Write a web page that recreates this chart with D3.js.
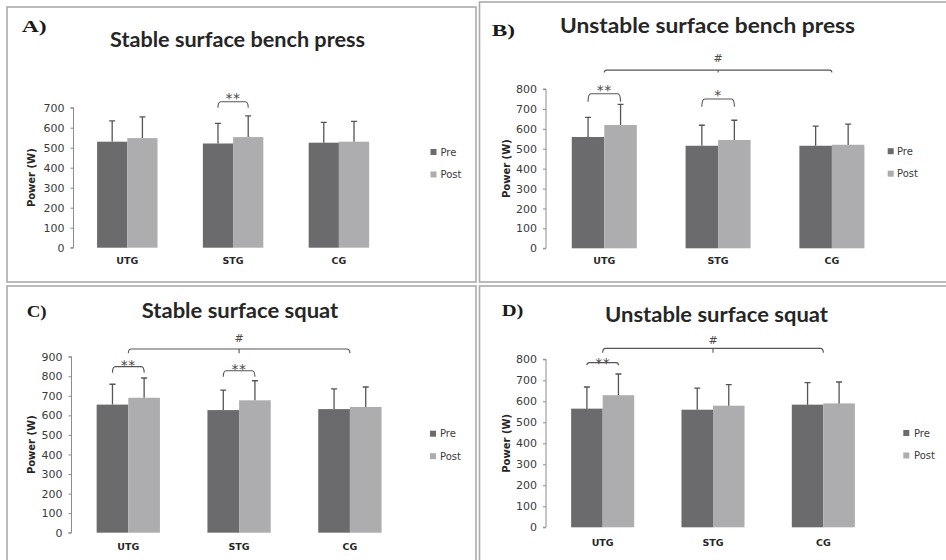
<!DOCTYPE html>
<html><head><meta charset="utf-8">
<script src="https://cdn.jsdelivr.net/npm/d3@7"></script>
<style>html,body{margin:0;padding:0;background:#fff;}svg{display:block;}</style>
</head><body>
<svg id="chart" width="946" height="560"></svg>
<script>
// ---------- DATA ----------
const groups = ["UTG", "STG", "CG"];
const seriesNames = ["Pre", "Post"];
const panelLetters = ["A)", "B)", "C)", "D)"];
const panelTitles = ["Stable surface bench press", "Unstable surface bench press", "Stable surface squat", "Unstable surface squat"];
const yMaxes = [700, 800, 900, 800];
const yTickStep = 100;
const yTitle = "Power (W)";

const preA = [530, 521, 525], postA = [548, 553, 530];
const preSdA = [104, 101, 102], postSdA = [106, 106, 102];
const preB = [559, 515, 515], postB = [619, 544, 520];
const preSdB = [99, 103, 99], postSdB = [104, 99, 104];
const preC = [655, 627, 632], postC = [690, 677, 643];
const preSdC = [104, 102, 103], postSdC = [101, 100, 102];
const preD = [565, 560, 584], postD = [629, 579, 590];
const preSdD = [103, 103, 105], postSdD = [101, 100, 102];

// significance marks: pair = pre vs post within group; brace = across groups
const sigA = [{type: "pair", group: 1, level: 730, label: "**"}];
const sigB = [{type: "pair", group: 0, level: 776, label: "**"},
              {type: "pair", group: 1, level: 750, label: "*"},
              {type: "brace", from: 0, to: 2, level: 895, label: "#"}];
const sigC = [{type: "pair", group: 0, level: 849, label: "**"},
              {type: "pair", group: 1, level: 828, label: "**"},
              {type: "brace", from: 0, to: 2, level: 939, label: "#"}];
const sigD = [{type: "pair", group: 0, level: 784, label: "**"},
              {type: "brace", from: 0, to: 2, level: 852, label: "#"}];

const preSets = [preA, preB, preC, preD];
const postSets = [postA, postB, postC, postD];
const preSdSets = [preSdA, preSdB, preSdC, preSdD];
const postSdSets = [postSdA, postSdB, postSdC, postSdD];
const sigSets = [sigA, sigB, sigC, sigD];

// ---------- LAYOUT ----------
const layouts = [
  {box: [7, 7, 476, 282], x: [74.4, 391.8], y: [247.7, 107.7], axisX: 73.5,
   letter: [21.7, 31.7, 25], title: [237.5, 46.7, 255], yTitleX: 31, xLabelY: 264,
   legend: [430.5, 152, 440.5], drop: [6], labelOff: [7.5]},
  {box: [479.5, 2, 960, 282], x: [547.4, 888.8], y: [248.3, 89], axisX: 546,
   letter: [491.7, 35.5, 23.3], title: [707.5, 33.3, 295], yTitleX: 506, xLabelY: 264,
   legend: [887.7, 151.2, 897], drop: [8, 7.7, 2.5], labelOff: [7, 7, 11.5]},
  {box: [7, 286, 476, 575], x: [72.9, 405.3], y: [532.7, 356.7], axisX: 71.5,
   letter: [26.7, 317, 20], title: [240, 318.3, 196.6], yTitleX: 31, xLabelY: 550,
   legend: [430, 433.7, 440], drop: [6, 6, 4.3], labelOff: [5, 5.5, 10.5]},
  {box: [479.5, 286, 960, 575], x: [547.5, 878.5], y: [527.3, 359.3], axisX: 546,
   letter: [501.7, 315.5, 21.7], title: [716.5, 321.7, 223], yTitleX: 506, xLabelY: 545.5,
   legend: [903.3, 433, 914], drop: [2.5, 4.4], labelOff: [3, 8.5]}
];

const colors = {Pre: "#6b6b6e", Post: "#adadaf"};
const svg = d3.select("#chart");

layouts.forEach((L, p) => {
  const g = svg.append("g");
  // panel border
  g.append("rect")
    .attr("x", L.box[0]).attr("y", L.box[1])
    .attr("width", L.box[2] - L.box[0]).attr("height", L.box[3] - L.box[1])
    .attr("fill", "none").attr("stroke", "#ababab").attr("stroke-width", 1.6);

  const x0 = d3.scaleBand().domain(groups).range(L.x).paddingInner(0).paddingOuter(0);
  const bw = x0.bandwidth() / 3.5;
  const x1 = d3.scaleBand().domain(seriesNames).range([x0.bandwidth() / 2 - bw, x0.bandwidth() / 2 + bw]);
  const y = d3.scaleLinear().domain([0, yMaxes[p]]).range(L.y);

  // y axis
  const ticks = d3.range(0, yMaxes[p] + 1, yTickStep);
  const yAxis = d3.axisLeft(y).tickValues(ticks).tickSize(3).tickPadding(6).tickFormat(d3.format("d"));
  const ya = g.append("g").attr("transform", `translate(${L.axisX},0)`).call(yAxis);
  ya.select(".domain").attr("stroke", "#8c8c8c").attr("stroke-width", 1).attr("d", `M-3,${L.y[1]}H0V${L.y[0]}H-3`);
  ya.selectAll(".tick line").attr("stroke", "#8c8c8c");
  ya.selectAll(".tick text").attr("font-family", "DejaVu Sans, sans-serif").attr("font-size", 11).attr("fill", "#3a3a3a");

  // y title
  g.append("text")
    .attr("transform", `translate(${L.yTitleX},${(L.y[0] + L.y[1]) / 2}) rotate(-90)`)
    .attr("text-anchor", "middle").attr("dy", "0.35em")
    .attr("font-family", "DejaVu Sans, sans-serif").attr("font-weight", "bold").attr("font-size", 10)
    .attr("fill", "#262626").text(yTitle);

  // x labels
  g.selectAll(".xl").data(groups).enter().append("text")
    .attr("x", d => x0(d) + x0.bandwidth() / 2).attr("y", L.xLabelY)
    .attr("text-anchor", "middle")
    .attr("font-family", "DejaVu Sans, sans-serif").attr("font-weight", "bold").attr("font-size", 9.5)
    .attr("fill", "#262626").text(d => d);

  const rows = groups.map((grp, i) => ({grp, vals: [
    {s: "Pre", v: preSets[p][i], sd: preSdSets[p][i]},
    {s: "Post", v: postSets[p][i], sd: postSdSets[p][i]}]}));

  const gg = g.selectAll(".grp").data(rows).enter().append("g")
    .attr("transform", d => `translate(${x0(d.grp)},0)`);
  gg.selectAll("rect").data(d => d.vals).enter().append("rect")
    .attr("x", d => x1(d.s)).attr("width", x1.bandwidth())
    .attr("y", d => y(d.v)).attr("height", d => y(0) - y(d.v))
    .attr("fill", d => colors[d.s]);
  // error bars (upper)
  gg.selectAll(".err").data(d => d.vals).enter().append("path")
    .attr("d", d => {
      const cx = x1(d.s) + x1.bandwidth() / 2;
      return `M${cx},${y(d.v)}V${y(d.v + d.sd)}M${cx - 3},${y(d.v + d.sd)}H${cx + 3}`;
    })
    .attr("stroke", "#555558").attr("stroke-width", 1.3).attr("fill", "none");

  // significance annotations
  sigSets[p].forEach((s, k) => {
    const yt = y(s.level);
    const ye = yt + L.drop[k];
    const r = Math.min(3, L.drop[k]);
    let xa, xb, xm;
    if (s.type === "pair") {
      xa = x0(groups[s.group]) + x1("Pre") + x1.bandwidth() / 2;
      xb = x0(groups[s.group]) + x1("Post") + x1.bandwidth() / 2;
      xm = (xa + xb) / 2;
    } else {
      xa = x0(groups[s.from]) + x0.bandwidth() / 2;
      xb = x0(groups[s.to]) + x0.bandwidth() / 2;
      xm = (xa + xb) / 2;
    }
    let d = `M${xa},${ye}Q${xa},${yt} ${xa + r},${yt}H${xb - r}Q${xb},${yt} ${xb},${ye}`;
    if (s.type === "brace") d += `M${xm},${yt}V${ye}`;
    g.append("path").attr("d", d).attr("fill", "none").attr("stroke", "#555558").attr("stroke-width", 1.1);
    const isStar = s.type === "pair";
    g.append("text").attr("x", xm).attr("y", yt - L.labelOff[k]).attr("text-anchor", "middle")
      .attr("dy", isStar ? "0.6em" : "0.35em")
      .attr("font-family", "DejaVu Sans, sans-serif").attr("font-size", isStar ? 14 : 11)
      .attr("letter-spacing", isStar ? 0.5 : 0)
      .attr("fill", "#4a4a4a").text(s.label);
  });

  // legend
  seriesNames.forEach((s, i) => {
    const cy = L.legend[1] + i * 22.5;
    g.append("rect").attr("x", L.legend[0]).attr("y", cy - 3).attr("width", 6).attr("height", 6).attr("fill", colors[s]);
    g.append("text").attr("x", L.legend[2]).attr("y", cy).attr("dy", "0.35em")
      .attr("font-family", "DejaVu Sans, sans-serif").attr("font-size", 10).attr("fill", "#3a3a3a").text(s);
  });

  // panel letter
  g.append("text").attr("x", L.letter[0]).attr("y", L.letter[1])
    .attr("font-family", "Liberation Serif, serif").attr("font-weight", "bold").attr("font-size", 16)
    .attr("textLength", L.letter[2]).attr("lengthAdjust", "spacingAndGlyphs")
    .attr("fill", "#1a1a1a").text(panelLetters[p]);
  // title
  g.append("text").attr("x", L.title[0]).attr("y", L.title[1]).attr("text-anchor", "middle")
    .attr("font-family", "Lato, sans-serif").attr("font-weight", "bold").attr("font-size", 20)
    .attr("textLength", L.title[2]).attr("lengthAdjust", "spacingAndGlyphs")
    .attr("fill", "#262626").text(panelTitles[p]);
});
</script>
</body></html>
